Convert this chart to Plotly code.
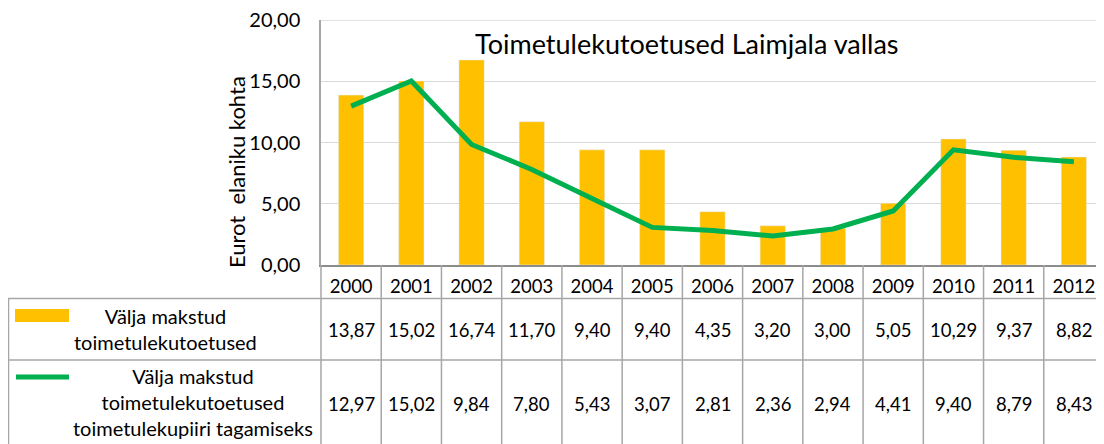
import plotly.graph_objects as go

years = ["2000", "2001", "2002", "2003", "2004", "2005", "2006",
         "2007", "2008", "2009", "2010", "2011", "2012"]
paid = [13.87, 15.02, 16.74, 11.70, 9.40, 9.40, 4.35, 3.20, 3.00, 5.05, 10.29, 9.37, 8.82]
subsistence = [12.97, 15.02, 9.84, 7.80, 5.43, 3.07, 2.81, 2.36, 2.94, 4.41, 9.40, 8.79, 8.43]
y_max = 20

series1_name = ["Välja makstud", "toimetulekutoetused"]
series2_name = ["Välja makstud", "toimetulekutoetused", "toimetulekupiiri tagamiseks"]
title_text = "Toimetulekutoetused Laimjala vallas"
y_title = "Eurot  elaniku kohta"

# page has an 8px body margin; figure placed at (8, 8)
OFF = 8
W, H = 1104, 444
PL, PR, PT, PB = 321, 1104, 20, 265  # plot area in page pixels
PW, PH = PR - PL, PB - PT
FONT = "Lato, Carlito, Calibri, sans-serif"
GRID = "#d9d9d9"
TBL = "#a6a6a6"
BAR = "#FFC000"
LINE = "#00B050"
N = len(years)


def px(xp):
    return (xp - PL) / PW


def py(yp):
    return (PB - yp) / PH


def colx(i):
    return (i + 0.5) / N


def fmt(v):
    return f"{v:.2f}".replace(".", ",")


fig = go.Figure()
fig.add_trace(go.Bar(x=years, y=paid, marker_color=BAR, width=0.42,
                     showlegend=False))
fig.add_trace(go.Scatter(x=years, y=subsistence, mode="lines",
                         line=dict(color=LINE, width=5), showlegend=False))

ann = []
ann.append(dict(text=title_text, x=px(687), y=py(44), xref="paper", yref="paper",
                showarrow=False, font=dict(size=27, color="#000"),
                xanchor="center", yanchor="middle"))
ann.append(dict(text=y_title, x=px(236), y=py(172), xref="paper", yref="paper",
                showarrow=False, textangle=-90, font=dict(size=22, color="#000"),
                xanchor="center", yanchor="middle"))
for i in range(N):
    ann.append(dict(text=fmt(paid[i]), x=colx(i), xref="paper", y=py(330), yref="paper",
                    showarrow=False, font=dict(size=18.5, color="#000"),
                    xanchor="center", yanchor="middle"))
    ann.append(dict(text=fmt(subsistence[i]), x=colx(i), xref="paper", y=py(404),
                    yref="paper", showarrow=False, font=dict(size=18.5, color="#000"),
                    xanchor="center", yanchor="middle"))
ann.append(dict(text="<br>".join(series1_name), x=px(165), y=py(329), xref="paper",
                yref="paper", showarrow=False, align="center",
                font=dict(size=20, color="#000"), xanchor="center", yanchor="middle"))
ann.append(dict(text="<br>".join(series2_name), x=px(193), y=py(402), xref="paper",
                yref="paper", showarrow=False, align="center",
                font=dict(size=20, color="#000"), xanchor="center", yanchor="middle"))

shapes = []
# top gridline
shapes.append(dict(type="line", xref="paper", yref="y", x0=0, x1=1, y0=y_max, y1=y_max,
                   line=dict(color=GRID, width=1.5), layer="below"))
for k in range(N + 1):
    shapes.append(dict(type="line", xref="paper", yref="paper", x0=k / N, x1=k / N,
                       y0=py(265), y1=py(H + 2), line=dict(color=TBL, width=1.5)))
for yy in (298.5, 360):
    shapes.append(dict(type="line", xref="paper", yref="paper", x0=px(8), x1=px(W + 2),
                       y0=py(yy), y1=py(yy), line=dict(color=TBL, width=1.5)))
shapes.append(dict(type="line", xref="paper", yref="paper", x0=px(8.5), x1=px(8.5),
                   y0=py(298.5), y1=py(H + 2), line=dict(color=TBL, width=1.5)))
shapes.append(dict(type="rect", xref="paper", yref="paper", x0=px(15), x1=px(69),
                   y0=py(322), y1=py(309), fillcolor=BAR, line=dict(width=0)))
shapes.append(dict(type="line", xref="paper", yref="paper", x0=px(16), x1=px(69),
                   y0=py(377), y1=py(377), line=dict(color=LINE, width=5)))

fig.update_layout(
    width=W - OFF, height=H - OFF,
    margin=dict(l=PL - OFF, r=W - PR, t=PT - OFF, b=H - PB, pad=0),
    paper_bgcolor="white", plot_bgcolor="white",
    separators=",.",
    font=dict(family=FONT, color="#000"),
    annotations=ann, shapes=shapes,
    xaxis=dict(type="category", range=[-0.5, N - 0.5], showgrid=False,
               showline=True, linecolor="#8c8c8c", linewidth=1.5,
               ticks="", tickfont=dict(size=18.5, color="#000"),
               ticklabelstandoff=4, fixedrange=True, automargin=False),
    yaxis=dict(range=[0, y_max], dtick=5, tickformat=".2f", showgrid=True,
               gridcolor=GRID, gridwidth=1.2, showline=True, linecolor=TBL,
               linewidth=1.5, zeroline=False, ticks="",
               tickfont=dict(size=20, color="#000"), ticklabelstandoff=15,
               ticklabeloverflow="allow", fixedrange=True, automargin=False),
)

fig.write_html("out.html")
